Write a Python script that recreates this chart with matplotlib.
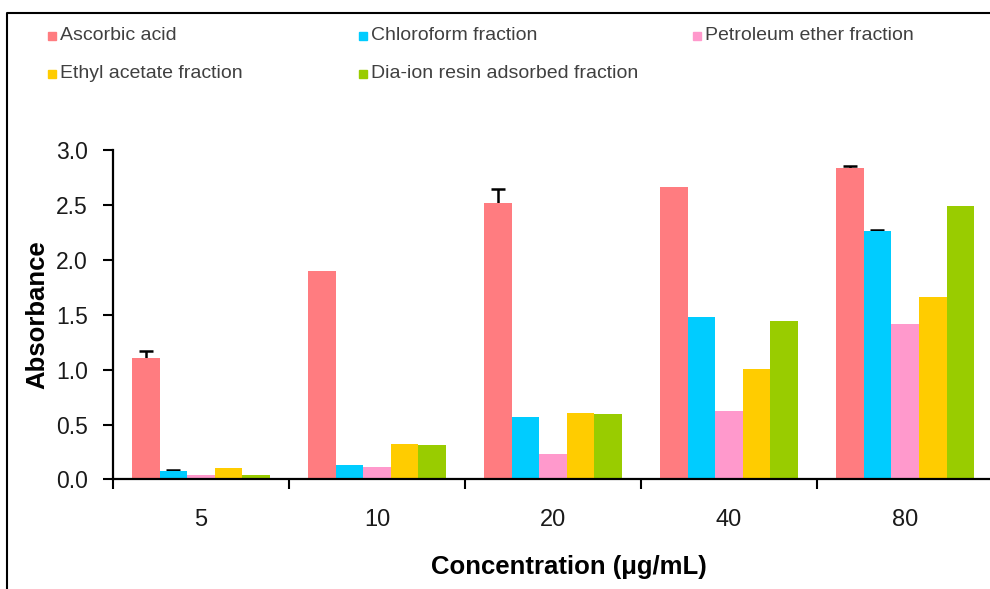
import numpy as np
import matplotlib
matplotlib.use("Agg")
import matplotlib.pyplot as plt
from matplotlib.patches import Rectangle
from matplotlib.lines import Line2D

plt.rcParams['font.family'] = ['Liberation Sans', 'DejaVu Sans']

concentrations = ["5", "10", "20", "40", "80"]
series_names = ["Ascorbic acid", "Chloroform fraction", "Petroleum ether fraction",
                "Ethyl acetate fraction", "Dia-ion resin adsorbed fraction"]
ascorbic = [1.11, 1.90, 2.52, 2.665, 2.835]
chloroform = [0.077, 0.127, 0.57, 1.48, 2.26]
petroleum = [0.045, 0.112, 0.228, 0.625, 1.414]
ethyl = [0.103, 0.319, 0.607, 1.005, 1.663]
diaion = [0.045, 0.31, 0.592, 1.442, 2.492]
ascorbic_err = [0.055, 0.0, 0.12, 0.0, 0.022]
chloroform_err = [0.01, 0.0, 0.0, 0.0, 0.015]
colors = ["#FF7C80", "#00CCFF", "#FF99CC", "#FFCC00", "#99CC00"]

values = [ascorbic, chloroform, petroleum, ethyl, diaion]
errors = [ascorbic_err, chloroform_err, None, None, None]

fig = plt.figure(figsize=(9.9, 5.89), dpi=100)
ax = fig.add_axes([0.1141, 0.186, 0.889, 0.5594])

x = np.arange(len(concentrations))
w = 0.157
for i, (vals, col) in enumerate(zip(values, colors)):
    pos = x + (i - 2) * w
    ax.bar(pos, vals, width=w, color=col, edgecolor="none", zorder=2)
    if errors[i] is not None:
        err = np.array(errors[i])
        m = err > 0
        # drawn behind the bars so only the upper half shows
        ax.errorbar(pos[m], np.array(vals)[m], yerr=err[m],
                    fmt="none", ecolor="black", elinewidth=1.8, capsize=5,
                    capthick=1.8, zorder=1)

ax.set_xlim(-0.5, 4.5)
ax.set_ylim(0, 3.0)
ax.set_yticks(np.arange(0, 3.01, 0.5))
ax.set_yticklabels([f"{v:.1f}" for v in np.arange(0, 3.01, 0.5)])
ax.set_xticks(x)
ax.set_xticklabels(concentrations)
ax.set_xticks(np.arange(-0.5, 4.6, 1.0), minor=True)
ax.tick_params(axis="x", which="major", length=0, pad=21, labelsize=17, labelcolor="#1a1a1a")
ax.tick_params(axis="x", which="minor", length=7, width=1.5, direction="out")
ax.tick_params(axis="y", length=7, width=1.5, direction="out", labelsize=16.5,
               pad=11, labelcolor="#1a1a1a")
for s in ["top", "right"]:
    ax.spines[s].set_visible(False)
for s in ["left", "bottom"]:
    ax.spines[s].set_linewidth(1.6)

ax.set_ylabel("Absorbance", fontsize=18.5, fontweight="bold", labelpad=5)
ax.set_xlabel("Concentration (\u03bcg/mL)", fontsize=18.5, fontweight="bold")
ax.xaxis.set_label_coords(0.518, -0.229)

# legend laid out in rows like the original
leg_pos = [(52, 36), (363, 36), (697, 36), (52, 74), (363, 74)]
for name, col, (px, py) in zip(series_names, colors, leg_pos):
    fx = px / 990
    fy = 1 - py / 589
    fig.patches.append(Rectangle((fx - 4 / 990, fy - 4 / 589), 8 / 990, 8 / 589,
                                 transform=fig.transFigure, color=col))
    fig.text(fx + 8 / 990, fy, name, fontsize=14, color="#404040",
             va="center", ha="left")

# outer frame (left and top edges visible)
fig.lines.append(Line2D([7 / 990, 7 / 990, 1.0], [0.0, 1 - 13 / 589, 1 - 13 / 589],
                        transform=fig.transFigure, color="black", linewidth=1.5))

fig.savefig("out.png", dpi=100)
